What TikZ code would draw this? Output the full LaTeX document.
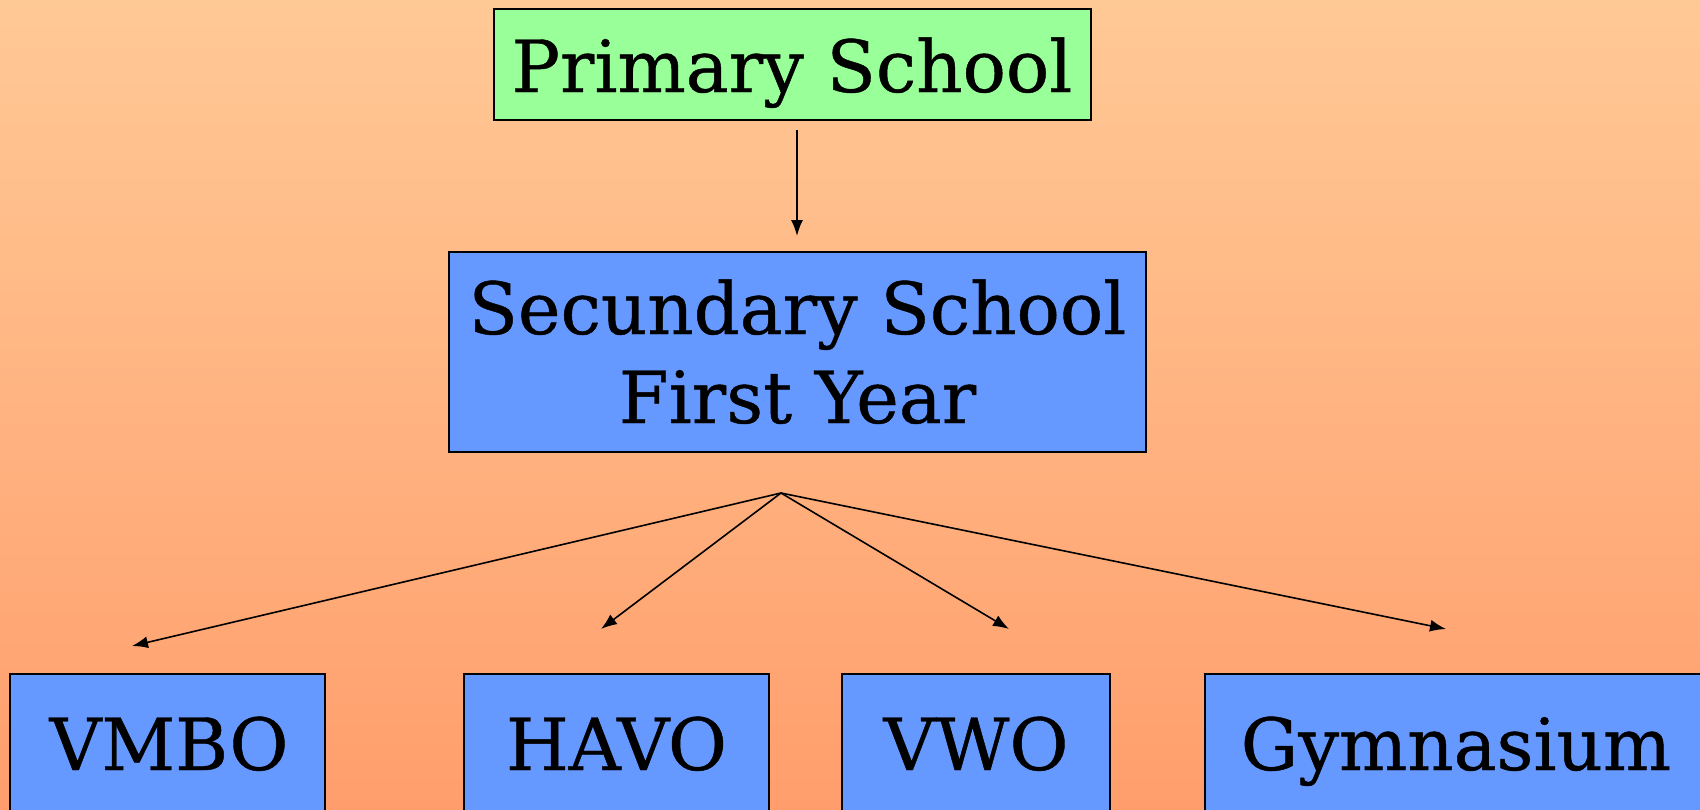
\documentclass[tikz,border=0pt]{standalone}
\usepackage{fontspec}
\setmainfont{DejaVu Serif}[FakeBold=0.6]
\usetikzlibrary{arrows.meta}
\definecolor{bgtop}{RGB}{255,201,150}
\definecolor{bgbot}{RGB}{255,158,108}
\definecolor{boxgreen}{RGB}{153,255,153}
\definecolor{boxblue}{RGB}{102,153,255}
\tikzset{
  box/.style={draw=black, line width=1.5pt, rectangle, inner sep=0pt},
  txt/.style={anchor=base, inner sep=0pt, font=\fontsize{72}{90}\selectfont},
  conn/.style={draw=black, line width=1.6pt, -{Latex[length=16pt,width=12pt]}}
}
\begin{document}
\begin{tikzpicture}[x=1pt,y=-1pt]
\useasboundingbox (0,0) rectangle (1700,809);
\clip (0,0) rectangle (1700,809);
\shade[top color=bgtop, bottom color=bgbot] (0,0) rectangle (1700,809);
% boxes
\node[box, fill=boxgreen, minimum width=597pt, minimum height=111pt] (ps) at (792.5,64.5) {};
\node[box, fill=boxblue, minimum width=697pt, minimum height=200pt] (ss) at (797.5,352) {};
\node[box, fill=boxblue, minimum width=315pt, minimum height=180pt] (vmbo) at (167.5,764) {};
\node[box, fill=boxblue, minimum width=305pt, minimum height=180pt] (havo) at (616.5,764) {};
\node[box, fill=boxblue, minimum width=268pt, minimum height=180pt] (vwo) at (976,764) {};
\node[box, fill=boxblue, minimum width=520pt, minimum height=180pt] (gym) at (1465,764) {};
% texts
\node[txt] (pst) at (792,92) {Primary School};
\node[txt] (sst1) at (797.5,334) {Secundary School};
\node[txt] (sst2) at (797.5,423) {First Year};
\node[txt] (vmbot) at (169,770) {VMBO};
\node[txt] (havot) at (616.5,770) {HAVO};
\node[txt] (vwot) at (976,770) {VWO};
\node[txt] (gymt) at (1456,770) {Gymnasium};
% connectors
\coordinate (p1) at (797,130);
\coordinate (p2) at (797,236);
\coordinate (fan) at (781,493);
\coordinate (tv) at (132,646);
\coordinate (th) at (601,629);
\coordinate (tw) at (1009,629);
\coordinate (tg) at (1446,629);
\draw[conn] (p1) -- (p2);
\draw[conn] (fan) -- (tv);
\draw[conn] (fan) -- (th);
\draw[conn] (fan) -- (tw);
\draw[conn] (fan) -- (tg);
\end{tikzpicture}
\end{document}
